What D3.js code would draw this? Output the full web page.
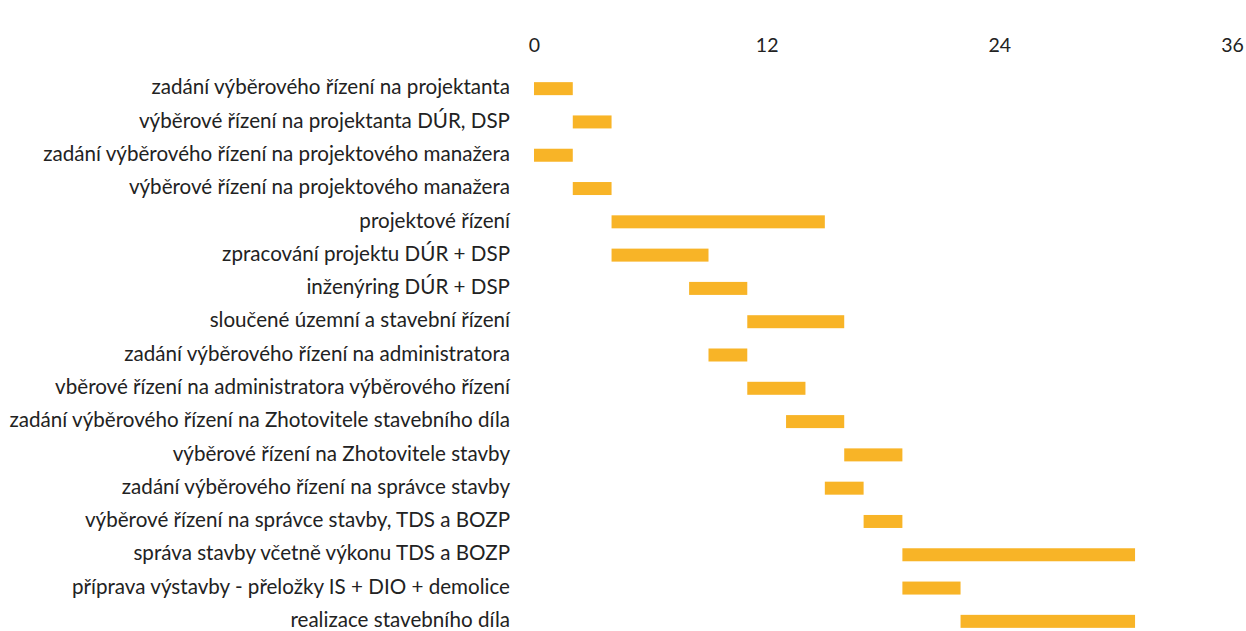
<!DOCTYPE html>
<html>
<head>
<meta charset="utf-8">
<script src="https://cdn.jsdelivr.net/npm/d3@7"></script>
<style>
  body { margin: 0; background: #fff; }
  svg text { font-family: Lato, "Open Sans", sans-serif; fill: #222; }
</style>
</head>
<body>
<div id="chart"></div>
<script>
// task names, top to bottom
const tasks = [
  "zadání výběrového řízení na projektanta",
  "výběrové řízení na projektanta DÚR, DSP",
  "zadání výběrového řízení na projektového manažera",
  "výběrové řízení na projektového manažera",
  "projektové řízení",
  "zpracování projektu DÚR + DSP",
  "inženýring DÚR + DSP",
  "sloučené územní a stavební řízení",
  "zadání výběrového řízení na administratora",
  "vběrové řízení na administratora výběrového řízení",
  "zadání výběrového řízení na Zhotovitele stavebního díla",
  "výběrové řízení na Zhotovitele stavby",
  "zadání výběrového řízení na správce stavby",
  "výběrové řízení na správce stavby, TDS a BOZP",
  "správa stavby včetně výkonu TDS a BOZP",
  "příprava výstavby - přeložky IS + DIO + demolice",
  "realizace stavebního díla"
];
// start and end month of each task
const starts = [0, 2, 0, 2, 4, 4, 8, 11, 9, 11, 13, 16, 15, 17, 19, 19, 22];
const ends   = [2, 4, 2, 4, 15, 9, 11, 16, 11, 14, 16, 19, 17, 19, 31, 22, 31];
const ticks = [0, 12, 24, 36];

const width = 1246, height = 631;
const margin = { top: 72, left: 534, right: 14, bottom: -7 };

const svg = d3.select("#chart").append("svg")
  .attr("width", width)
  .attr("height", height);

const x = d3.scaleLinear()
  .domain([0, 36])
  .range([margin.left, width - margin.right]);

const y = d3.scaleBand()
  .domain(tasks)
  .range([margin.top, height - margin.bottom])
  .paddingInner(0);

// top axis, labels only
const xAxis = svg.append("g")
  .attr("transform", "translate(0,52)")
  .call(d3.axisTop(x).tickValues(ticks).tickSize(0).tickPadding(0));
xAxis.select(".domain").remove();
xAxis.selectAll("text")
  .style("font-size", "19.5px")
  .style("font-family", "Lato, 'Open Sans', sans-serif")
  .attr("fill", "#333");

// bars
const barH = 13;
svg.append("g").selectAll("rect")
  .data(tasks)
  .enter()
  .append("rect")
  .attr("x", (d, i) => x(starts[i]))
  .attr("y", d => y(d) + y.bandwidth() / 2 - barH / 2)
  .attr("width", (d, i) => x(ends[i]) - x(starts[i]))
  .attr("height", barH)
  .attr("fill", "#F8B427");

// category labels
svg.append("g").selectAll("text")
  .data(tasks)
  .enter()
  .append("text")
  .attr("x", 510)
  .attr("y", d => y(d) + y.bandwidth() / 2 - 1.5)
  .attr("dy", "0.35em")
  .attr("text-anchor", "end")
  .style("font-size", "20.6px")
  .text(d => d);
</script>
</body>
</html>
